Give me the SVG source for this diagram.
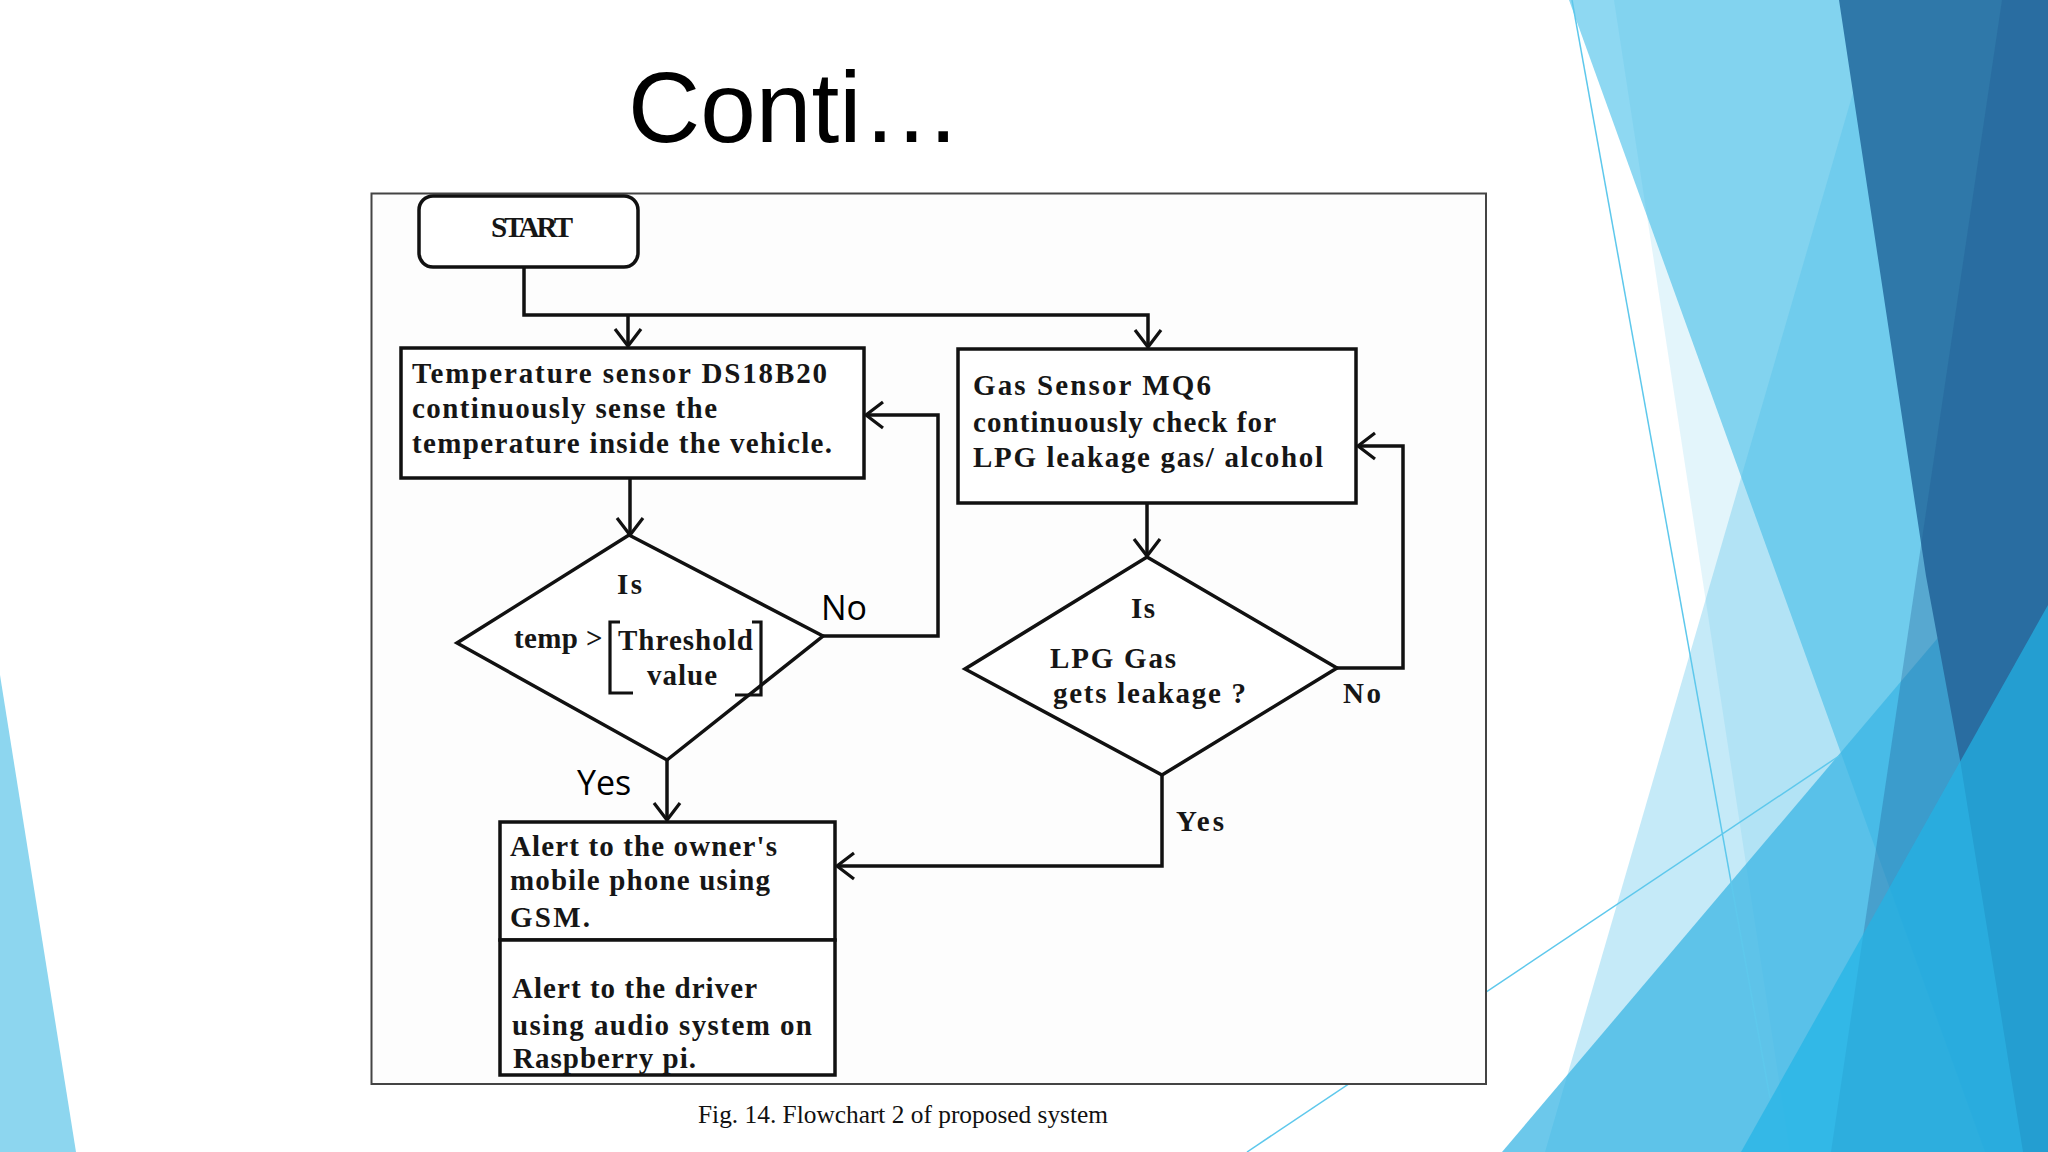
<svg xmlns="http://www.w3.org/2000/svg" width="2048" height="1152" viewBox="0 0 2048 1152">
<defs>
<marker id="arr" markerUnits="userSpaceOnUse" markerWidth="40" markerHeight="40" viewBox="-20 -20 40 40" refX="0" refY="0" orient="auto">
<path d="M-17,-13 L0,0 L-17,13" fill="none" stroke="#111" stroke-width="3.2"/>
</marker>
</defs>
<style>
.bg-line{stroke:#5ec8ec;stroke-width:1.5;fill:none}
.shape{fill:#fff;stroke:#111;stroke-width:3.5}
.conn{fill:none;stroke:#111;stroke-width:3.5}
.t{font-family:"Liberation Serif","Times New Roman",serif;font-weight:bold;font-size:29px;fill:#161616}
.s{font-family:"Open Sans","Noto Sans",sans-serif;font-size:34px;fill:#000}
</style>
<rect width="2048" height="1152" fill="#ffffff"/>
<g id="background">
<polygon points="0,675 76,1152 0,1152" fill="#8dd6ef"/>
<polygon points="1569,0 2048,0 2048,1152 1985,1152" fill="#8ed8f2"/>
<polygon points="1614,0 2048,0 2048,1152 1790,1152" fill="#3cb6e4" fill-opacity="0.14"/>
<polygon points="1880,0 2048,0 2048,1152 1545,1152" fill="#4cbfe9" fill-opacity="0.32"/>
<polygon points="2048,508 2048,1152 1502,1152" fill="#3bb6e4" fill-opacity="0.75"/>
<polygon points="1839,0 2048,0 2048,1152 2023,1152 1960,760 1926,576" fill="#2f78a9"/>
<polygon points="2002,0 2048,0 2048,1152 1831,1152" fill="#1f5590" fill-opacity="0.3"/>
<polygon points="2048,605 2048,1152 1741,1152" fill="#22b4e6" fill-opacity="0.7"/>
<line class="bg-line" x1="1572" y1="0" x2="1770" y2="1098"/>
<line class="bg-line" x1="1839" y1="756" x2="1247" y2="1152"/>
</g>
<text id="title" x="628" y="142" font-family="'Liberation Sans',Arial,sans-serif" font-size="100" fill="#000">Conti…</text>
<rect id="frame" x="371.5" y="193.5" width="1114.5" height="890.5" fill="#fdfdfd" stroke="#444" stroke-width="2"/>
<g id="connectors">
<path class="conn" d="M524,267 V315 H1148 V347" marker-end="url(#arr)"/>
<path class="conn" d="M628,315 V346" marker-end="url(#arr)"/>
<path class="conn" d="M630,478 V535" marker-end="url(#arr)"/>
<path class="conn" d="M823,636 H938 V415 H866" marker-end="url(#arr)"/>
<path class="conn" d="M667,760 V820" marker-end="url(#arr)"/>
<path class="conn" d="M1147,503 V556" marker-end="url(#arr)"/>
<path class="conn" d="M1337,668 H1403 V446 H1358" marker-end="url(#arr)"/>
<path class="conn" d="M1162,775 V866 H837" marker-end="url(#arr)"/>
<text class="s" x="821" y="620">No</text>
<text class="s" x="577" y="795">Yes</text>
<text class="t" x="1343" y="703" textLength="38">No</text>
<text class="t" x="1176" y="831" textLength="48">Yes</text>
</g>
<g id="start">
<rect class="shape" x="419" y="196" width="219" height="71" rx="14"/>
<text class="t" x="532" y="237" text-anchor="middle" font-size="25" textLength="82">START</text>
</g>
<g id="temp-sensor">
<rect class="shape" x="401" y="348" width="463" height="130"/>
<text class="t" x="412" y="383" textLength="415">Temperature sensor DS18B20</text>
<text class="t" x="412" y="418" textLength="305">continuously sense the</text>
<text class="t" x="412" y="453" textLength="420">temperature inside the vehicle.</text>
</g>
<g id="gas-sensor">
<rect class="shape" x="958" y="349" width="398" height="154"/>
<text class="t" x="973" y="395" textLength="238">Gas Sensor MQ6</text>
<text class="t" x="973" y="432" textLength="303">continuously check for</text>
<text class="t" x="973" y="467" textLength="350">LPG leakage gas/ alcohol</text>
</g>
<g id="temp-decision">
<polygon class="shape" points="629,535 823,636 667,760 457,643"/>
<text class="t" x="617" y="594" textLength="25">Is</text>
<text class="t" x="514" y="648" textLength="64">temp</text>
<text class="t" x="586" y="648">&gt;</text>
<path d="M620,622 H610 V693 H633 M752,622 H761 V695 H735" fill="none" stroke="#111" stroke-width="3.2"/>
<text class="t" x="618" y="650" textLength="135">Threshold</text>
<text class="t" x="647" y="685" textLength="70">value</text>
</g>
<g id="gas-decision">
<polygon class="shape" points="1147,557 1337,668 1162,775 965,669"/>
<text class="t" x="1131" y="618" textLength="24">Is</text>
<text class="t" x="1050" y="668" textLength="126">LPG Gas</text>
<text class="t" x="1053" y="703" textLength="193">gets leakage ?</text>
</g>
<g id="alert">
<rect class="shape" x="500" y="822" width="335" height="118"/>
<rect class="shape" x="500" y="940" width="335" height="135"/>
<text class="t" x="510" y="856" textLength="267">Alert to the owner's</text>
<text class="t" x="510" y="890" textLength="260">mobile phone using</text>
<text class="t" x="510" y="927" textLength="80">GSM.</text>
<text class="t" x="512" y="998" textLength="245">Alert to the driver</text>
<text class="t" x="512" y="1035" textLength="300">using audio system on</text>
<text class="t" x="513" y="1068" textLength="183">Raspberry pi.</text>
</g>
<text id="caption" x="698" y="1123" font-family="'Liberation Serif','Times New Roman',serif" font-size="26" fill="#111" textLength="410" lengthAdjust="spacingAndGlyphs">Fig. 14. Flowchart 2 of proposed system</text>
</svg>
